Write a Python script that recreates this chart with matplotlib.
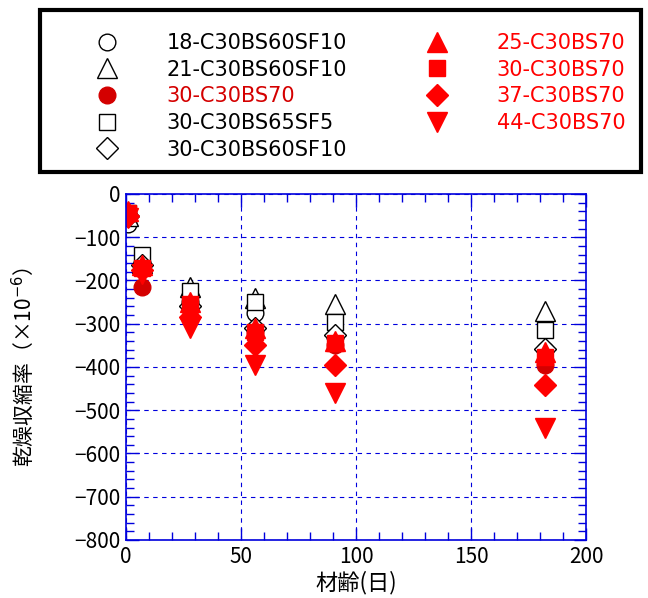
import matplotlib
matplotlib.use("Agg")
import matplotlib.pyplot as plt
from matplotlib.patches import Rectangle
from matplotlib.ticker import MultipleLocator

plt.rcParams['font.family'] = ['Noto Sans CJK JP', 'DejaVu Sans']
plt.rcParams['axes.unicode_minus'] = True

# 材齢 (days)
ages = [1, 7, 28, 56, 91, 182]

# drying shrinkage (x10^-6)
s18_bs60sf10 = [-70, -160, -250, -275, -330, -360]
s21_bs60sf10 = [-50, -160, -215, -240, -255, -270]
s30_bs70_c = [-45, -215, -265, -320, -350, -395]
s30_bs65sf5 = [-45, -140, -225, -250, -295, -315]
s30_bs60sf10 = [-50, -165, -260, -310, -325, -358]
s25_bs70 = [-40, -165, -250, -310, -340, -365]
s30_bs70 = [-45, -170, -255, -318, -345, -378]
s37_bs70 = [-50, -175, -285, -350, -395, -442]
s44_bs70 = [-55, -185, -310, -395, -460, -540]

RED = '#ff0000'
DARK_RED = '#d40000'

series = [
    ('18-C30BS60SF10', s18_bs60sf10, 'o', 'white', 'black', 'black'),
    ('21-C30BS60SF10', s21_bs60sf10, '^', 'white', 'black', 'black'),
    ('30-C30BS70', s30_bs70_c, 'o', DARK_RED, DARK_RED, DARK_RED),
    ('30-C30BS65SF5', s30_bs65sf5, 's', 'white', 'black', 'black'),
    ('30-C30BS60SF10', s30_bs60sf10, 'D', 'white', 'black', 'black'),
    ('25-C30BS70', s25_bs70, '^', RED, RED, RED),
    ('30-C30BS70', s30_bs70, 's', RED, RED, RED),
    ('37-C30BS70', s37_bs70, 'D', RED, RED, RED),
    ('44-C30BS70', s44_bs70, 'v', RED, RED, RED),
]
msize = {'o': 12, 's': 12, 'D': 11.5, '^': 14, 'v': 14}

fig = plt.figure(figsize=(6.48, 5.98), dpi=100)
ax = fig.add_axes([0.1944, 0.097, 0.7099, 0.5786])

handles = []
text_colors = []
for label, vals, mk, fc, ec, tc in series:
    h, = ax.plot(ages, vals, linestyle='none', marker=mk, markersize=msize[mk],
                 markerfacecolor=fc, markeredgecolor=ec, markeredgewidth=1.0,
                 label=label)
    handles.append(h)
    text_colors.append(tc)

ax.set_xlim(0, 200)
ax.set_ylim(-800, 0)
ax.xaxis.set_major_locator(MultipleLocator(50))
ax.xaxis.set_minor_locator(MultipleLocator(10))
ax.yaxis.set_major_locator(MultipleLocator(100))
ax.yaxis.set_minor_locator(MultipleLocator(20))

blue = '#0000dd'
for sp in ax.spines.values():
    sp.set_color(blue)
    sp.set_linewidth(1.2)
ax.tick_params(which='both', direction='in', top=True, right=True,
               color=blue, labelsize=15, labelcolor='black')
ax.tick_params(which='major', length=9, width=1.0, pad=4)
ax.tick_params(which='minor', length=6, width=1.0)
ax.grid(True, which='major', color=blue, linestyle=(0, (4, 4)), linewidth=0.8)
ax.set_axisbelow(True)

ax.set_xlabel('材齢(日)', fontsize=16, labelpad=2.5)
ax.set_ylabel('乾燥収縮率（×10$^{-6}$）', fontsize=15, labelpad=27)

# legend box at the top of the figure
fig.patches.append(Rectangle((40 / 648, 1 - 172 / 598), 601 / 648, 162 / 598,
                             transform=fig.transFigure, fill=False,
                             edgecolor='black', linewidth=3))

leg = fig.legend(handles=handles, labels=[s[0] for s in series], ncol=2,
                 loc='upper left', bbox_to_anchor=(86 / 648, 1 - 33 / 598),
                 prop={'family': 'DejaVu Sans', 'size': 15},
                 frameon=False, borderpad=0, borderaxespad=0,
                 handlelength=2.0, handletextpad=1.85, columnspacing=3.35,
                 labelspacing=0.32)
for txt, c in zip(leg.get_texts(), text_colors):
    txt.set_color(c)

fig.savefig('out.png', dpi=100)
